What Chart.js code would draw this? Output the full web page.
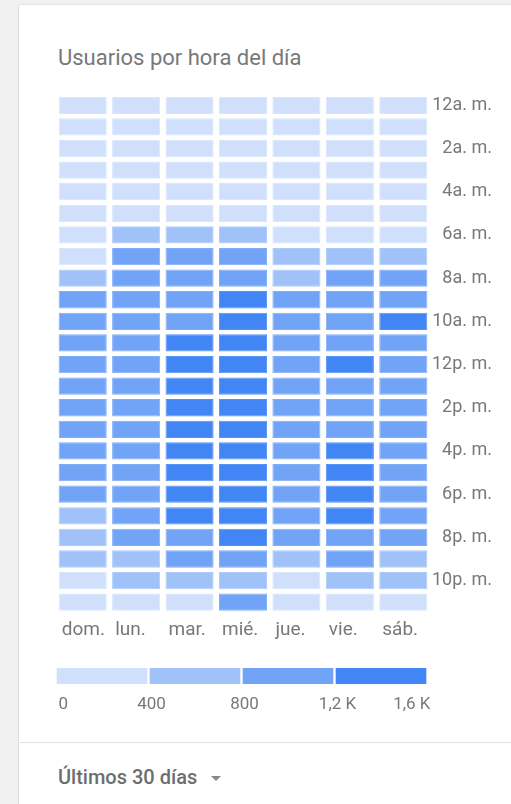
<!DOCTYPE html>
<html>
<head>
<meta charset="utf-8">
<script src="https://cdn.jsdelivr.net/npm/chart.js@4"></script>
<style>
  html, body { margin:0; padding:0; width:511px; height:804px; overflow:hidden; background:#f1f1f1; font-family: Roboto, "Noto Sans", sans-serif; }
  #card { position:absolute; left:19px; top:5px; width:520px; height:820px; background:#fff; box-shadow:0 0 2px rgba(0,0,0,0.18), 0 1px 2px rgba(0,0,0,0.10); border-radius:2px; }
  #title { position:absolute; left:58px; top:44px; font-size:22px; line-height:28px; color:#787878; white-space:nowrap; }
  #heatWrap { position:absolute; left:0; top:80px; width:511px; height:570px; }
  #legendWrap { position:absolute; left:0; top:655px; width:511px; height:64px; }
  #divider { position:absolute; left:20px; top:742px; width:491px; height:1px; background:#e3e3e3; }
  #footer { position:absolute; left:58px; top:764px; font-size:20px; line-height:26px; color:#6d6d6d; font-weight:500; white-space:nowrap; }
  #footer .arrow { display:inline-block; margin-left:14px; width:0; height:0; border-left:5px solid transparent; border-right:5px solid transparent; border-top:5px solid #888; vertical-align:middle; position:relative; top:0px; }
</style>
</head>
<body>
<div id="card"></div>
<div id="title">Usuarios por hora del día</div>
<div id="heatWrap"><canvas id="heat"></canvas></div>
<div id="legendWrap"><canvas id="legend"></canvas></div>
<div id="divider"></div>
<div id="footer">Últimos 30 días<span class="arrow"></span></div>
<script>
// ---- data ----
const days = ['dom.', 'lun.', 'mar.', 'mié.', 'jue.', 'vie.', 'sáb.'];
const hourTickLabels = ['12a. m.', '2a. m.', '4a. m.', '6a. m.', '8a. m.', '10a. m.', '12p. m.', '2p. m.', '4p. m.', '6p. m.', '8p. m.', '10p. m.'];
// users per hour (0..23) for each weekday
const dom = [180,120,90,70,60,80,150,330,620,880,990,1040,1060,1010,980,1000,970,950,900,780,720,640,380,250];
const lun = [150,100,70,60,70,150,520,980,1090,1120,1130,1150,1120,1100,1120,1130,1110,1080,1050,1000,900,720,480,270];
const mar = [160,110,80,60,70,160,540,1010,1120,1150,1180,1250,1300,1290,1320,1330,1310,1300,1280,1240,1150,900,560,300];
const mie = [170,110,80,60,70,160,560,1040,1150,1260,1300,1320,1350,1330,1340,1360,1350,1330,1310,1280,1250,1010,620,820];
const jue = [150,100,70,60,70,140,380,760,790,1020,1060,1100,1110,1090,1100,1120,1100,1080,1040,1000,920,700,390,260];
const vie = [160,100,80,60,70,140,360,740,880,1080,1110,1150,1230,1180,1190,1170,1240,1250,1220,1210,1100,880,450,280];
const sab = [190,130,90,70,70,110,330,700,860,1120,1220,1150,1100,1080,1050,1020,1000,980,960,900,860,720,460,290];
const legendBreaks = [0, 400, 800, 1200, 1600];
const legendTickLabels = ['0', '400', '800', '1,2 K', '1,6 K'];

// ---- styling ----
const binColors = ['#d0e0fc', '#a0c2f9', '#71a3f6', '#4285f4'];
const binBorders = ['#d9e6fd', '#adcbfa', '#80adf7', '#5592f5'];
function binOf(v) {
  for (let i = legendBreaks.length - 2; i >= 0; i--) if (v >= legendBreaks[i]) return i;
  return 0;
}
const tickColor = '#787878';

const byDay = [dom, lun, mar, mie, jue, vie, sab];
const datasets = [];
for (let h = 0; h < 24; h++) {
  const vals = byDay.map(arr => arr[h]);
  datasets.push({
    label: 'h' + h,
    data: vals.map(() => [h + 0.1, h + 0.9]),
    values: vals,
    backgroundColor: vals.map(v => binColors[binOf(v)]),
    borderColor: vals.map(v => binBorders[binOf(v)]),
    borderWidth: 1,
    borderSkipped: false,
    grouped: false,
    barPercentage: 0.9,
    categoryPercentage: 1.0
  });
}

new Chart(document.getElementById('heat'), {
  type: 'bar',
  data: { labels: days, datasets },
  options: {
    responsive: true,
    maintainAspectRatio: false,
    animation: false,
    layout: { padding: { left: 56, top: 14.5, right: 19, bottom: 0 } },
    plugins: { legend: { display: false }, tooltip: { enabled: false } },
    scales: {
      x: {
        afterFit: (s) => { s.height = 37; },
        grid: { display: false, drawTicks: false },
        border: { display: false },
        ticks: { color: tickColor, font: { family: 'Roboto', size: 19 }, align: 'start', labelOffset: -21, padding: 6, maxRotation: 0, autoSkip: false }
      },
      y: {
        position: 'right',
        reverse: true,
        min: 0,
        max: 24,
        afterFit: (s) => { s.width = 62; },
        grid: { display: false, drawTicks: false },
        border: { display: false },
        afterBuildTicks: (scale) => { scale.ticks = hourTickLabels.map((_, i) => ({ value: i * 2 + 0.5 })); },
        ticks: {
          color: tickColor, font: { family: 'Roboto', size: 18 }, padding: 0, crossAlign: 'far', autoSkip: false,
          callback: (value) => hourTickLabels[Math.round((value - 0.5) / 2)]
        }
      }
    }
  }
});

// legend colour scale
new Chart(document.getElementById('legend'), {
  type: 'bar',
  data: {
    labels: [''],
    datasets: binColors.map((c, i) => ({
      data: [[legendBreaks[i], legendBreaks[i + 1]]],
      backgroundColor: c,
      borderColor: '#ffffff',
      borderWidth: { left: 1.5, right: 1.5, top: 0, bottom: 0 },
      borderSkipped: false,
      grouped: false,
      barPercentage: 1,
      categoryPercentage: 1
    }))
  },
  options: {
    indexAxis: 'y',
    responsive: true,
    maintainAspectRatio: false,
    animation: false,
    layout: { padding: { left: 55.5, top: 13, right: 83.5, bottom: 0 } },
    plugins: { legend: { display: false }, tooltip: { enabled: false } },
    scales: {
      y: { display: false },
      x: {
        min: 0, max: 1600,
        afterFit: (s) => { s.height = 35; },
        grid: { display: false, drawTicks: false },
        border: { display: false },
        afterBuildTicks: (scale) => { scale.ticks = legendBreaks.map(v => ({ value: v })); },
        ticks: {
          color: tickColor, font: { family: 'Roboto', size: 17 }, align: 'inner', labelOffset: 3, padding: 10.5, maxRotation: 0, autoSkip: false,
          callback: (value) => legendTickLabels[legendBreaks.indexOf(value)]
        }
      }
    }
  }
});
</script>
</body>
</html>
